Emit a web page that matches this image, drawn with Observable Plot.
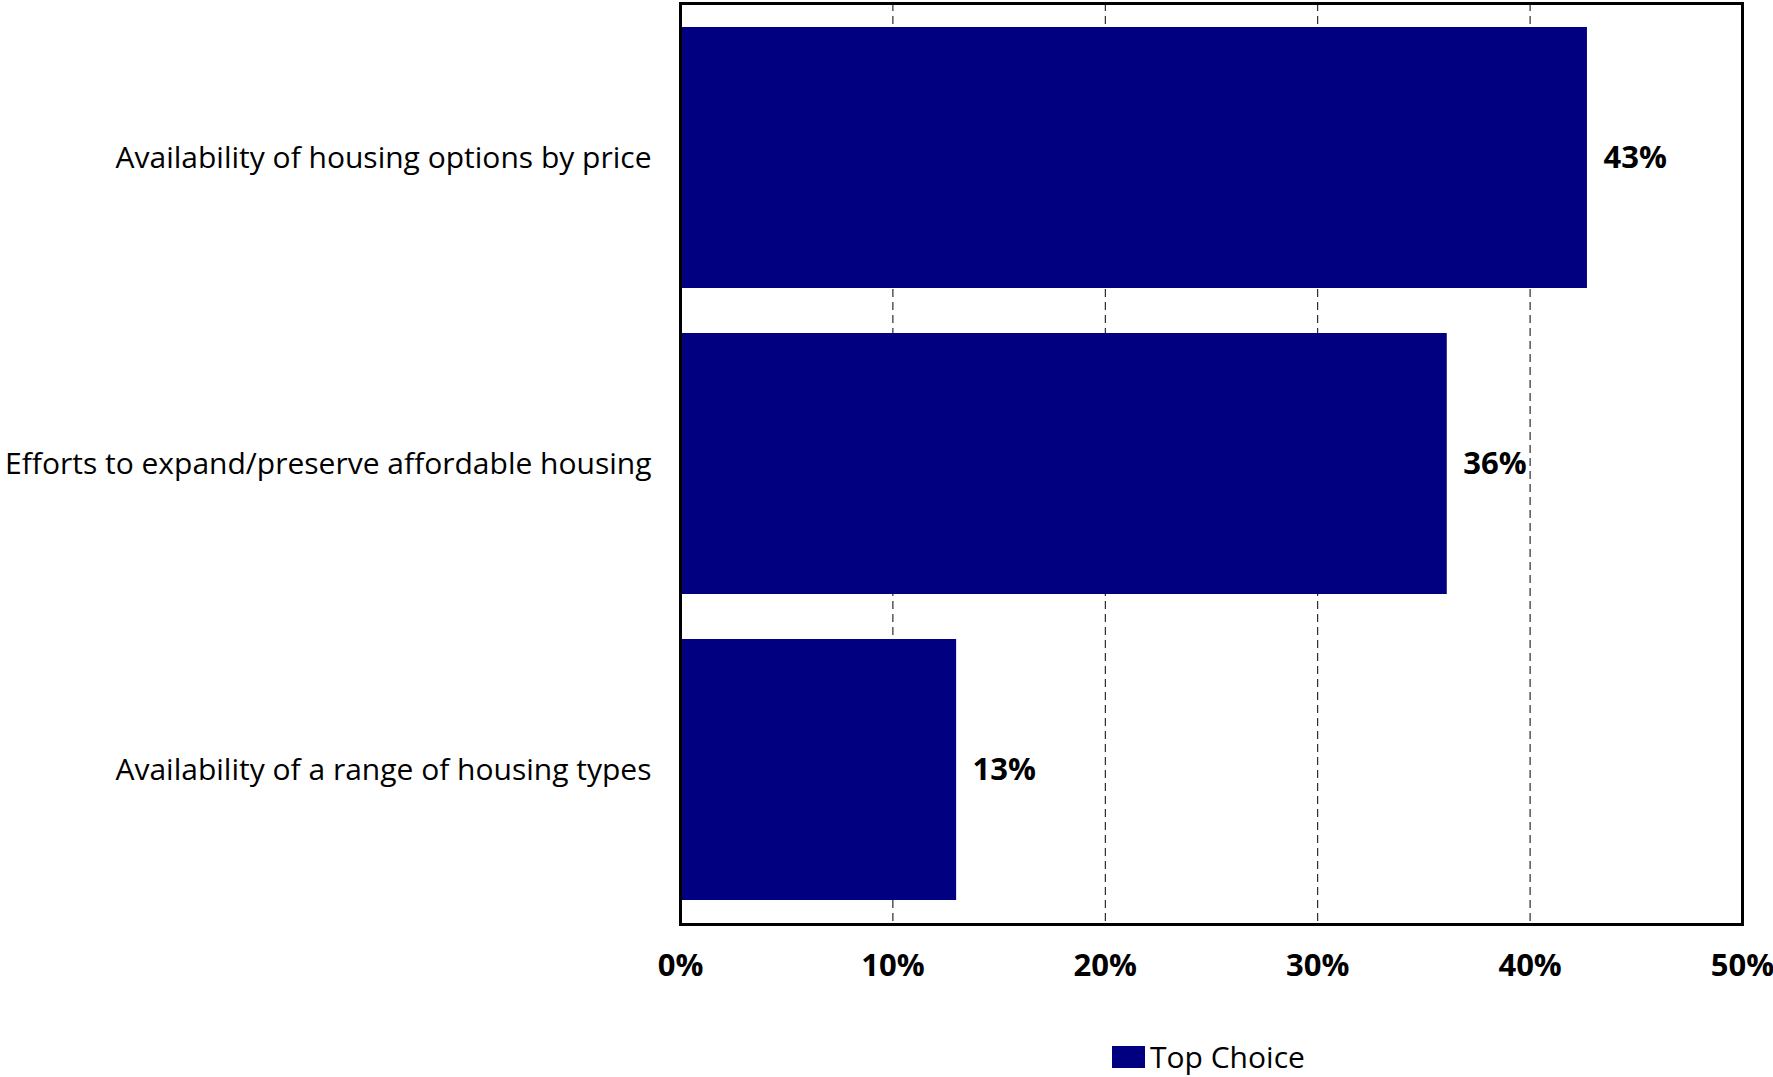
<!DOCTYPE html>
<html>
<head>
<meta charset="utf-8">
<script src="https://cdn.jsdelivr.net/npm/d3@7"></script>
<script src="https://cdn.jsdelivr.net/npm/@observablehq/plot@0.6"></script>
<style>
  html, body { margin: 0; padding: 0; background: #fff; }
  body { width: 1773px; height: 1077px; overflow: hidden; position: relative; font-family: "Open Sans", sans-serif; }
  #legend { position: absolute; left: 1112px; top: 1036px; display: flex; align-items: center; font-size: 30px; color: #000; white-space: nowrap; }
  #legend .sw { width: 33px; height: 22px; background: #000080; margin-right: 5px; }
</style>
</head>
<body>
<div id="chart"></div>
<div id="legend"><span class="sw"></span><span>Top Choice</span></div>
<script>
const categories = [
  "Availability of housing options by price",
  "Efforts to expand/preserve affordable housing",
  "Availability of a range of housing types"
];
const values = [42.7, 36.1, 13.0];
const valueLabels = ["43%", "36%", "13%"];
const xTicks = [0, 10, 20, 30, 40, 50];
const gridTicks = [10, 20, 30, 40];
const seriesName = "Top Choice";

const data = categories.map((c, i) => ({category: c, value: values[i], label: valueLabels[i]}));

const chart = Plot.plot({
  width: 1773,
  height: 1000,
  marginLeft: 680,
  marginRight: 31,
  marginTop: 3,
  marginBottom: 76,
  style: {fontFamily: "'Open Sans', sans-serif", color: "#000", background: "#fff"},
  x: {domain: [0, 50], ticks: xTicks},
  y: {domain: categories, paddingInner: 0.147, paddingOuter: 0.078},
  marks: [
    Plot.ruleX(gridTicks, {stroke: "#000", strokeWidth: 1, strokeDasharray: "8,5"}),
    Plot.barX(data, {x: "value", y: "category", fill: "#000080"}),
    Plot.text(data, {x: "value", y: "category", text: "label", textAnchor: "start", dx: 16, fontSize: 31, fontWeight: "bold", fill: "#000"}),
    Plot.axisX({ticks: xTicks, tickSize: 0, tickPadding: 29, tickFormat: d => d + "%", fontSize: 31, fontWeight: "bold", label: null}),
    Plot.axisY({tickSize: 0, tickPadding: 29, fontSize: 30, label: null}),
    Plot.frame({stroke: "#000", strokeWidth: 3})
  ]
});
document.getElementById("chart").appendChild(chart);
</script>
</body>
</html>
